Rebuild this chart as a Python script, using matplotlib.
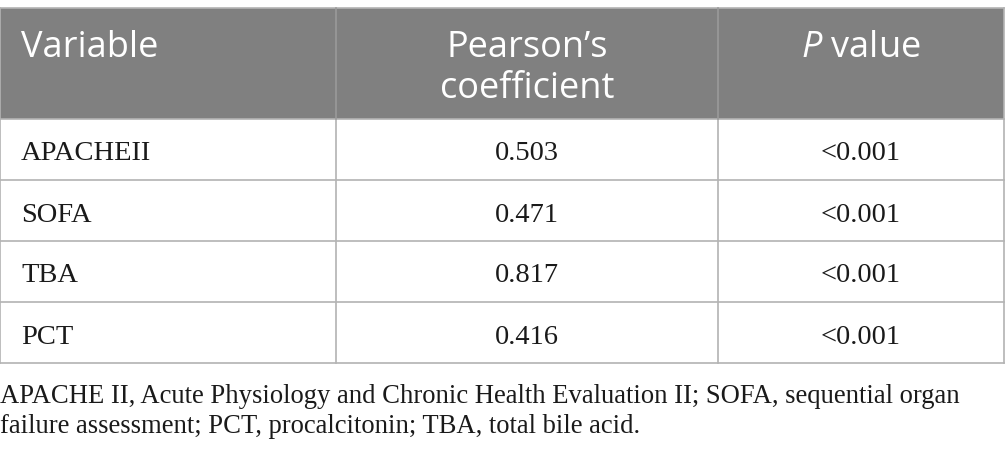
import matplotlib
matplotlib.use("Agg")
import matplotlib.pyplot as plt
from matplotlib.patches import Rectangle

plt.rcParams["mathtext.fontset"] = "custom"
plt.rcParams["mathtext.rm"] = "Open Sans"
plt.rcParams["mathtext.it"] = "Open Sans:italic"

variables = ["APACHEII", "SOFA", "TBA", "PCT"]
coefficients = ["0.503", "0.471", "0.817", "0.416"]
p_values = ["<0.001", "<0.001", "<0.001", "<0.001"]
headers = [["Variable"], ["Pearson\u2019s", "coefficient"], [r"$\it{P}$ value"]]
footnote = [
    "APACHE II, Acute Physiology and Chronic Health Evaluation II; SOFA, sequential organ",
    "failure assessment; PCT, procalcitonin; TBA, total bile acid.",
]

W, H = 1005, 458
col_x = [0, 336, 718, 1004]
head_top, head_bot = 8, 119
row_h = 61

fig = plt.figure(figsize=(W / 100, H / 100), dpi=100)
ax = fig.add_axes([0, 0, 1, 1])
ax.set_xlim(0, W)
ax.set_ylim(H, 0)
ax.axis("off")

grid = "#b3b3b3"
ink = "#1a1a1a"
sans = "Open Sans"
serif = "Liberation Serif"

ax.add_patch(Rectangle((col_x[0], head_top), col_x[-1] - col_x[0], head_bot - head_top,
                       facecolor="#808080", edgecolor="none"))
ax.plot([col_x[0], col_x[-1]], [head_top, head_top], color=grid, lw=1.2)

# header, one text per line so baselines sit where they do in the source
for j, lines in enumerate(headers):
    for k, line in enumerate(lines):
        if j == 0:
            x, ha = 21, "left"
        else:
            x, ha = (col_x[j] + col_x[j + 1]) / 2, "center"
        ax.text(x, 57 + 41 * k, line, ha=ha, va="baseline", color="white",
                fontsize=26, family=sans)

# body
n = len(variables)
bottom = head_bot + n * row_h
for i in range(n):
    yb = head_bot + row_h * i + 41.5
    ax.text(21, yb, variables[i], ha="left", va="baseline", fontsize=20.5, family=serif, color=ink)
    ax.text((col_x[1] + col_x[2]) / 2, yb, coefficients[i], ha="center", va="baseline",
            fontsize=20.5, family=serif, color=ink)
    ax.text((col_x[2] + col_x[3]) / 2, yb, p_values[i], ha="center", va="baseline",
            fontsize=20.5, family=serif, color=ink)
    ax.plot([col_x[0], col_x[-1]], [head_bot + row_h * (i + 1)] * 2, color=grid, lw=1.2)

ax.plot([col_x[0], col_x[-1]], [head_bot, head_bot], color=grid, lw=1.2)
for x in col_x:
    ax.plot([x, x], [head_bot, bottom], color=grid, lw=1.2)
for x in col_x[1:-1]:
    ax.plot([x, x], [head_top, head_bot], color="#9a9a9a", lw=1.2)
for x in (col_x[0], col_x[-1]):
    ax.plot([x, x], [head_top, head_bot], color=grid, lw=1.2)

for k, line in enumerate(footnote):
    ax.text(0, 403 + 30 * k, line, ha="left", va="baseline", fontsize=19.2, family=serif, color=ink)

fig.savefig("out.png", dpi=100)
